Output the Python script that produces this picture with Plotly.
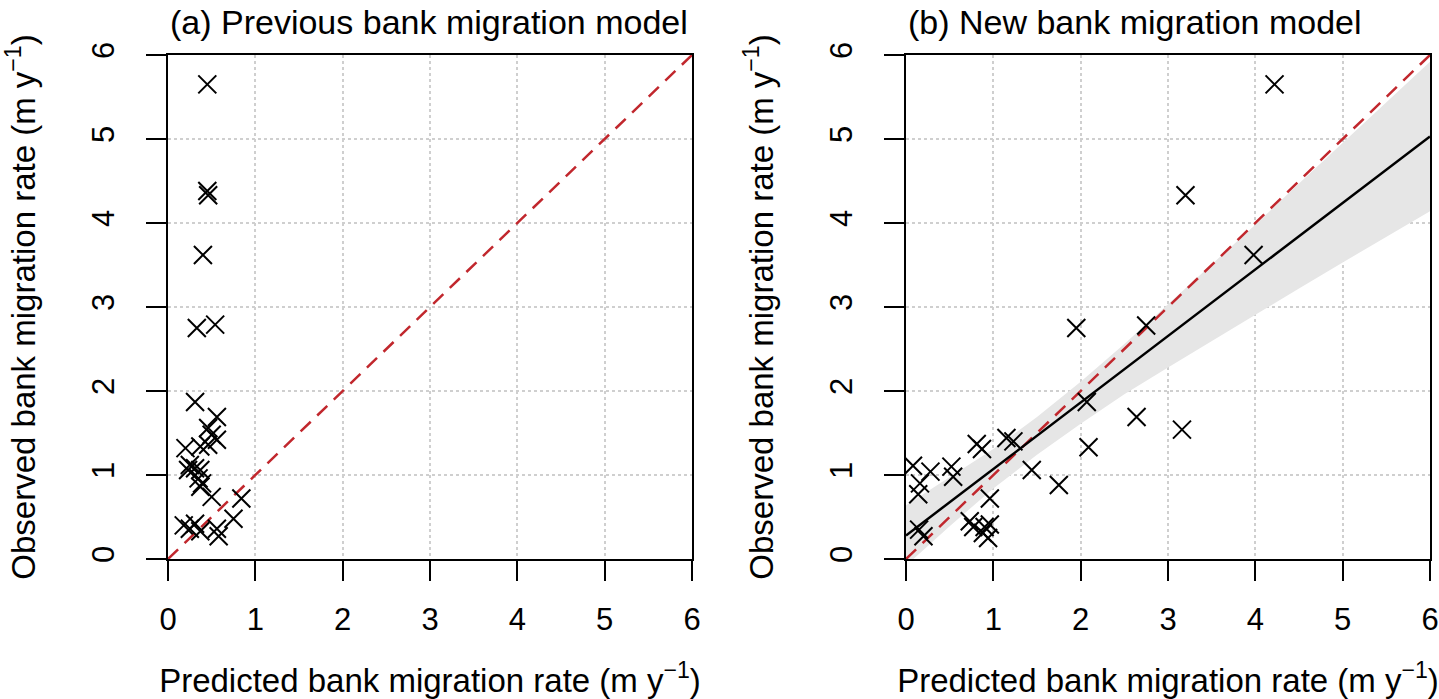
import plotly.graph_objects as go

# ---------------- data ----------------
ticks = [0, 1, 2, 3, 4, 5, 6]

# Panel (a): previous model
pred_a = [0.45, 0.45, 0.46, 0.40, 0.33, 0.54, 0.31, 0.56, 0.46, 0.50,
          0.56, 0.20, 0.37, 0.46, 0.25, 0.31, 0.23, 0.37, 0.35, 0.39,
          0.37, 0.50, 0.84, 0.75, 0.18, 0.31, 0.25, 0.37, 0.56, 0.58]
obs_a = [5.65, 4.38, 4.33, 3.62, 2.75, 2.79, 1.87, 1.69, 1.56, 1.48,
         1.42, 1.32, 1.34, 1.36, 1.12, 1.08, 1.06, 1.06, 0.96, 0.90,
         0.86, 0.74, 0.72, 0.48, 0.40, 0.42, 0.36, 0.33, 0.36, 0.27]

# Panel (b): new model
pred_b = [4.22, 3.20, 3.98, 1.95, 2.75, 2.07, 2.64, 3.16, 2.09, 1.15,
          1.23, 0.81, 0.87, 1.44, 1.75, 0.08, 0.28, 0.52, 0.54, 0.16,
          0.14, 0.96, 0.15, 0.20, 0.73, 0.77, 0.90, 0.96, 0.88, 0.94]
obs_b = [5.65, 4.33, 3.62, 2.75, 2.78, 1.87, 1.69, 1.54, 1.33, 1.44,
         1.40, 1.37, 1.31, 1.06, 0.88, 1.11, 1.04, 1.10, 0.98, 0.90,
         0.77, 0.72, 0.35, 0.27, 0.45, 0.38, 0.38, 0.41, 0.31, 0.25]

# 1:1 line
identity_x = [0, 6]
identity_y = [0, 6]

# fitted regression line and its confidence band
fit_x = [0, 6]
fit_y = [0.28, 5.03]
band_x = [0, 0.5, 1, 1.5, 2, 2.5, 3, 3.5, 4, 4.5, 5, 5.5, 6]
band_upper = [0.64, 0.97, 1.31, 1.69, 2.11, 2.56, 3.03, 3.50, 3.98, 4.47, 4.95, 5.44, 5.92]
band_lower = [-0.08, 0.39, 0.84, 1.24, 1.61, 1.96, 2.28, 2.60, 2.91, 3.22, 3.53, 3.84, 4.14]

titles = ["(a) Previous bank migration model", "(b) New bank migration model"]
x_title = "Predicted bank migration rate (m y<sup>\u22121</sup>)"
y_title = "Observed bank migration rate (m y<sup>\u22121</sup>)"

# ---------------- figure ----------------
W, H = 1439, 699
FONT = "Liberation Sans, Arial, sans-serif"
RED = "#C1272D"

fig = go.Figure()

marker_style = dict(symbol="x-thin-open", size=18, color="black",
                    line=dict(color="black", width=2))

# Panel a
fig.add_trace(go.Scatter(x=identity_x, y=identity_y, mode="lines",
                         line=dict(color=RED, width=2.5, dash="14px,9px"),
                         xaxis="x", yaxis="y", hoverinfo="skip"))
fig.add_trace(go.Scatter(x=pred_a, y=obs_a, mode="markers", marker=marker_style,
                         xaxis="x", yaxis="y"))

# Panel b
fig.add_trace(go.Scatter(x=band_x + band_x[::-1], y=band_upper + band_lower[::-1],
                         fill="toself", fillcolor="#E6E6E6", mode="lines",
                         line=dict(width=0, color="#E6E6E6"),
                         xaxis="x2", yaxis="y2", hoverinfo="skip"))
fig.add_trace(go.Scatter(x=identity_x, y=identity_y, mode="lines",
                         line=dict(color=RED, width=2.5, dash="14px,9px"),
                         xaxis="x2", yaxis="y2", hoverinfo="skip"))
fig.add_trace(go.Scatter(x=fit_x, y=fit_y, mode="lines",
                         line=dict(color="black", width=2.5),
                         xaxis="x2", yaxis="y2", hoverinfo="skip"))
fig.add_trace(go.Scatter(x=pred_b, y=obs_b, mode="markers", marker=marker_style,
                         xaxis="x2", yaxis="y2"))

left_dom = [168 / W, 692 / W]
right_dom = [906 / W, 1430 / W]
y_dom = [(H - 559) / H, (H - 55) / H]

TICK_SIZE = 31
TITLE_SIZE = 33


def xaxis(domain, anchor):
    return dict(domain=domain, anchor=anchor, range=[0, 6], tickvals=ticks,
                ticks="outside", ticklen=20, tickwidth=1.5, tickcolor="black",
                showline=True, mirror=True, linecolor="black", linewidth=2,
                showgrid=True, gridcolor="#CFCFCF", griddash="dot", gridwidth=1.5,
                zeroline=False, ticklabelstandoff=12, automargin=False,
                tickfont=dict(size=TICK_SIZE, family=FONT, color="black"),
                title=dict(text=x_title, standoff=34,
                           font=dict(size=TITLE_SIZE, family=FONT, color="black")))


def yaxis(anchor):
    return dict(domain=y_dom, anchor=anchor, range=[0, 6], tickvals=ticks,
                ticks="outside", ticklen=20, tickwidth=1.5, tickcolor="black",
                showline=True, mirror=True, linecolor="black", linewidth=2,
                showgrid=True, gridcolor="#CFCFCF", griddash="dot", gridwidth=1.5,
                zeroline=False, tickangle=-90, ticklabelstandoff=20, automargin=False,
                tickfont=dict(size=TICK_SIZE, family=FONT, color="black"),
                title=dict(text=y_title, standoff=40,
                           font=dict(size=TITLE_SIZE, family=FONT, color="black")))


fig.update_layout(
    width=W, height=H, autosize=False,
    margin=dict(l=0, r=0, t=0, b=0, pad=0),
    paper_bgcolor="white", plot_bgcolor="white",
    showlegend=False,
    xaxis=xaxis(left_dom, "y"),
    yaxis=yaxis("x"),
    xaxis2=xaxis(right_dom, "y2"),
    yaxis2=yaxis("x2"),
    annotations=[
        dict(text=titles[0], x=left_dom[0], y=(H - 22) / H, xref="paper", yref="paper",
             xanchor="left", yanchor="middle", showarrow=False,
             font=dict(size=34, family=FONT, color="black")),
        dict(text=titles[1], x=right_dom[0], y=(H - 22) / H, xref="paper", yref="paper",
             xanchor="left", yanchor="middle", showarrow=False,
             font=dict(size=34, family=FONT, color="black")),
    ],
)

fig.write_html("out.html")
